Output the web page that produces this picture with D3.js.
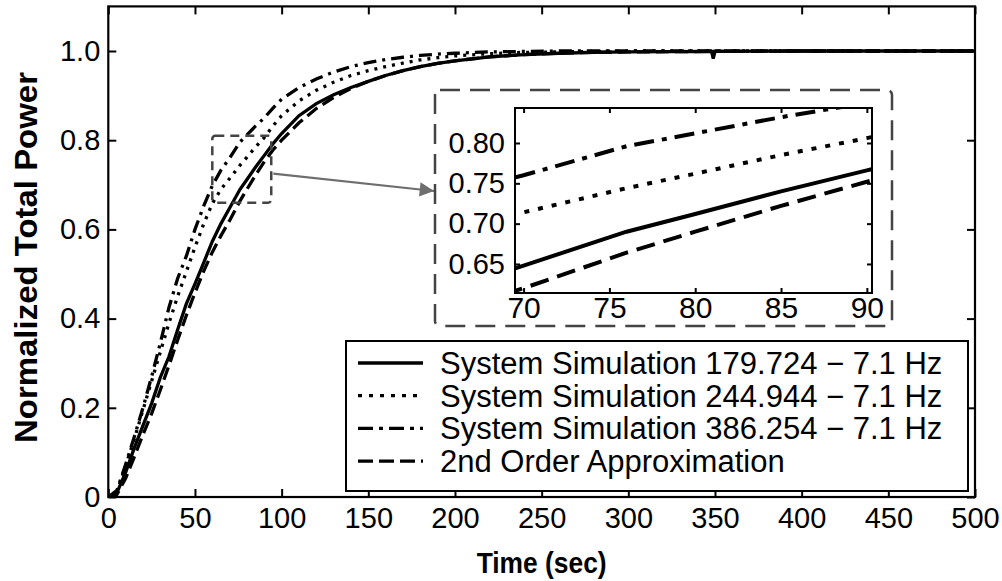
<!DOCTYPE html>
<html>
<head>
<meta charset="utf-8">
<script src="https://cdn.jsdelivr.net/npm/d3@7/dist/d3.min.js"></script>
<style>
  html, body { margin: 0; padding: 0; background: #fff; }
  svg text { font-family: "Liberation Sans", Arial, Helvetica, sans-serif; fill: #000; }
</style>
</head>
<body>
<div id="chart"></div>
<script>
(function(d3) {

  // time samples (sec) shared by all series
  var timeSec = [0, 5, 10, 15, 20, 25, 30, 35, 40, 45, 50, 55, 60, 65, 70, 76, 80, 85, 90, 95,
    100, 110, 120, 130, 140, 150, 160, 170, 180, 190, 200, 220, 240, 260, 280, 300,
    348, 349, 350, 400, 450, 500];

  var sim179 = [0, 0.010, 0.055, 0.110, 0.160, 0.210, 0.268, 0.315, 0.375, 0.433, 0.478, 0.525, 0.573, 0.613, 0.648, 0.690, 0.712, 0.740, 0.766, 0.792,
    0.815, 0.855, 0.882, 0.902, 0.918, 0.932, 0.945, 0.956, 0.965, 0.972, 0.978, 0.987, 0.992, 0.995, 0.997, 0.998,
    0.999, 0.983, 0.999, 1.000, 1.000, 1.000];

  var sim244 = [0, 0.012, 0.070, 0.130, 0.195, 0.260, 0.325, 0.390, 0.450, 0.505, 0.560, 0.612, 0.658, 0.690, 0.714, 0.744, 0.762, 0.785, 0.806, 0.832,
    0.855, 0.888, 0.912, 0.930, 0.945, 0.956, 0.965, 0.973, 0.980, 0.985, 0.989, 0.994, 0.997, 0.998, 0.999, 1.000,
    1.000, 1.000, 1.000, 1.000, 1.000, 1.000];

  var sim386 = [0, 0.015, 0.073, 0.135, 0.200, 0.270, 0.345, 0.425, 0.490, 0.540, 0.600, 0.652, 0.698, 0.733, 0.760, 0.796, 0.812, 0.832, 0.850, 0.872,
    0.892, 0.918, 0.937, 0.953, 0.965, 0.974, 0.981, 0.986, 0.990, 0.993, 0.995, 0.998, 0.999, 1.000, 1.000, 1.000,
    1.000, 1.000, 1.000, 1.000, 1.000, 1.000];

  var approx2nd = [0, 0.006, 0.042, 0.090, 0.140, 0.187, 0.240, 0.295, 0.352, 0.407, 0.458, 0.506, 0.549, 0.586, 0.620, 0.664, 0.690, 0.722, 0.752, 0.778,
    0.800, 0.839, 0.871, 0.896, 0.916, 0.932, 0.945, 0.956, 0.965, 0.972, 0.978, 0.987, 0.992, 0.995, 0.997, 0.998,
    0.999, 0.999, 0.999, 1.000, 1.000, 1.000];

  var seriesNames = [
    'System Simulation 179.724 \u2212 7.1 Hz',
    'System Simulation 244.944 \u2212 7.1 Hz',
    'System Simulation 386.254 \u2212 7.1 Hz',
    '2nd Order Approximation'
  ];
  var seriesValues = [sim179, sim244, sim386, approx2nd];

  var xTicks = [0, 50, 100, 150, 200, 250, 300, 350, 400, 450, 500];
  var yTicks = [0, 0.2, 0.4, 0.6, 0.8, 1.0];
  var insetXTicks = [70, 75, 80, 85, 90];
  var insetYTicks = [0.65, 0.70, 0.75, 0.80];

  // zoom window in data units
  var zoomBox = { t0: 60, t1: 94, v0: 0.66, v1: 0.81 };

  // line styles: main plot / inset / legend
  var dashMain   = [null, '3,6', '13,6,3,6', '13,6'];
  var dashInset  = [null, '5,9', '20,8,5,8', '19,9'];
  var dashLegend = [null, '4,7', '15,6,4,6', '15,6'];

  var W = 1002, H = 581;
  var plot = { left: 108.3, right: 975, top: 6.4, bottom: 497 };
  var insetFrame = { x: 435, y: 90, w: 457, h: 236 };
  var inset = { left: 515, right: 872, top: 108, bottom: 293 };
  var legendBox = { x: 346, y: 341, w: 622, h: 150 };

  var svg = d3.select('#chart').append('svg')
      .attr('width', W)
      .attr('height', H);

  var x = d3.scaleLinear().domain([0, 500]).range([plot.left, plot.right]);
  var y = d3.scaleLinear().domain([0, 1.1]).range([plot.bottom, plot.top]);

  var fmtY = function(d) { return d === 0 ? '0' : d3.format('.1f')(d); };

  var styleAxis = function(g, fontSize) {
    g.select('.domain').remove();
    g.selectAll('.tick line').attr('stroke', '#000').attr('stroke-width', 2);
    g.selectAll('.tick text').attr('font-size', fontSize).attr('fill', '#000');
    g.attr('font-family', null);
  };

  // main axes, ticks pointing inward on all four sides
  svg.append('g')
      .attr('transform', 'translate(0,' + plot.bottom + ')')
      .call(d3.axisBottom(x).tickValues(xTicks).tickSize(-8).tickPadding(10))
      .call(styleAxis, 29);
  svg.append('g')
      .attr('transform', 'translate(0,' + plot.top + ')')
      .call(d3.axisTop(x).tickValues(xTicks).tickSize(-8).tickFormat(''))
      .call(styleAxis, 29);
  svg.append('g')
      .attr('transform', 'translate(' + plot.left + ',0)')
      .call(d3.axisLeft(y).tickValues(yTicks).tickSize(-8).tickPadding(8).tickFormat(fmtY))
      .call(styleAxis, 29);
  svg.append('g')
      .attr('transform', 'translate(' + plot.right + ',0)')
      .call(d3.axisRight(y).tickValues(yTicks).tickSize(-8).tickFormat(''))
      .call(styleAxis, 29);

  svg.append('clipPath').attr('id', 'clipMain')
    .append('rect')
      .attr('x', plot.left).attr('y', plot.top)
      .attr('width', plot.right - plot.left).attr('height', plot.bottom - plot.top);

  var line = d3.line()
      .x(function(d) { return x(d[0]); })
      .y(function(d) { return y(d[1]); });

  var pairs = function(vals) {
    return timeSec.map(function(t, i) { return [t, vals[i]]; });
  };

  var curves = svg.append('g').attr('clip-path', 'url(#clipMain)');
  // dashed first so the solid sits on top
  [3, 2, 1, 0].forEach(function(i) {
    curves.append('path')
        .attr('d', line(pairs(seriesValues[i])))
        .attr('fill', 'none')
        .attr('stroke', '#000')
        .attr('stroke-width', 3.3)
        .attr('stroke-dasharray', dashMain[i]);
  });

  // frame
  svg.append('rect')
      .attr('x', plot.left).attr('y', plot.top)
      .attr('width', plot.right - plot.left).attr('height', plot.bottom - plot.top)
      .attr('fill', 'none').attr('stroke', '#000').attr('stroke-width', 2.2);

  // zoom window
  svg.append('rect')
      .attr('x', x(zoomBox.t0)).attr('y', y(zoomBox.v1))
      .attr('width', x(zoomBox.t1) - x(zoomBox.t0))
      .attr('height', y(zoomBox.v0) - y(zoomBox.v1))
      .attr('rx', 3)
      .attr('fill', 'none').attr('stroke', '#444').attr('stroke-width', 2.5)
      .attr('stroke-dasharray', '9,6');

  // arrow from the zoom window to the inset
  svg.append('defs').append('marker')
      .attr('id', 'arrowHead')
      .attr('viewBox', '0 0 10 10')
      .attr('refX', 10).attr('refY', 5)
      .attr('markerWidth', 8).attr('markerHeight', 6.5)
      .attr('markerUnits', 'strokeWidth')
      .attr('orient', 'auto')
    .append('path')
      .attr('d', 'M0,0 L10,5 L0,10 z')
      .attr('fill', '#6e6e6e');

  svg.append('line')
      .attr('x1', x(zoomBox.t1) + 2).attr('y1', y(0.725))
      .attr('x2', insetFrame.x - 1).attr('y2', 191)
      .attr('stroke', '#6e6e6e').attr('stroke-width', 2.2)
      .attr('marker-end', 'url(#arrowHead)');

  // inset
  svg.append('rect')
      .attr('x', insetFrame.x).attr('y', insetFrame.y)
      .attr('width', insetFrame.w).attr('height', insetFrame.h)
      .attr('rx', 5)
      .attr('fill', '#fff').attr('stroke', '#444').attr('stroke-width', 2.5)
      .attr('stroke-dasharray', '20,10');

  var ix = d3.scaleLinear().domain([69.5, 90.3]).range([inset.left, inset.right]);
  var iy = d3.scaleLinear().domain([0.614, 0.8434]).range([inset.bottom, inset.top]);

  svg.append('g')
      .attr('transform', 'translate(0,' + inset.bottom + ')')
      .call(d3.axisBottom(ix).tickValues(insetXTicks).tickSize(-5).tickPadding(4))
      .call(styleAxis, 30);
  svg.append('g')
      .attr('transform', 'translate(0,' + inset.top + ')')
      .call(d3.axisTop(ix).tickValues(insetXTicks).tickSize(-5).tickFormat(''))
      .call(styleAxis, 30);
  svg.append('g')
      .attr('transform', 'translate(' + inset.left + ',0)')
      .call(d3.axisLeft(iy).tickValues(insetYTicks).tickSize(-5).tickPadding(10).tickFormat(d3.format('.2f')))
      .call(styleAxis, 29);
  svg.append('g')
      .attr('transform', 'translate(' + inset.right + ',0)')
      .call(d3.axisRight(iy).tickValues(insetYTicks).tickSize(-5).tickFormat(''))
      .call(styleAxis, 29);

  svg.append('clipPath').attr('id', 'clipInset')
    .append('rect')
      .attr('x', inset.left).attr('y', inset.top)
      .attr('width', inset.right - inset.left).attr('height', inset.bottom - inset.top);

  var iline = d3.line()
      .x(function(d) { return ix(d[0]); })
      .y(function(d) { return iy(d[1]); });

  var icurves = svg.append('g').attr('clip-path', 'url(#clipInset)');
  [3, 2, 1, 0].forEach(function(i) {
    icurves.append('path')
        .attr('d', iline(pairs(seriesValues[i])))
        .attr('fill', 'none')
        .attr('stroke', '#000')
        .attr('stroke-width', 4)
        .attr('stroke-dasharray', dashInset[i]);
  });

  svg.append('rect')
      .attr('x', inset.left).attr('y', inset.top)
      .attr('width', inset.right - inset.left).attr('height', inset.bottom - inset.top)
      .attr('fill', 'none').attr('stroke', '#000').attr('stroke-width', 2);

  // legend
  var leg = svg.append('g');
  leg.append('rect')
      .attr('x', legendBox.x).attr('y', legendBox.y)
      .attr('width', legendBox.w).attr('height', legendBox.h)
      .attr('fill', '#fff').attr('stroke', '#000').attr('stroke-width', 2);

  var rowY = function(i) { return legendBox.y + 22 + i * 32.7; };

  seriesNames.forEach(function(name, i) {
    leg.append('line')
        .attr('x1', legendBox.x + 12).attr('x2', legendBox.x + 77)
        .attr('y1', rowY(i)).attr('y2', rowY(i))
        .attr('stroke', '#000').attr('stroke-width', 3.3)
        .attr('stroke-dasharray', dashLegend[i]);
    leg.append('text')
        .attr('x', legendBox.x + 94)
        .attr('y', rowY(i))
        .attr('dy', '0.35em')
        .attr('font-size', 31)
        .text(name);
  });

  // axis titles
  svg.append('text')
      .attr('x', (plot.left + plot.right) / 2)
      .attr('y', 573)
      .attr('text-anchor', 'middle')
      .attr('font-size', 30)
      .attr('font-weight', 'bold')
      .attr('textLength', 130)
      .attr('lengthAdjust', 'spacingAndGlyphs')
      .text('Time (sec)');

  svg.append('text')
      .attr('transform', 'translate(37,257.5) rotate(-90)')
      .attr('text-anchor', 'middle')
      .attr('font-size', 32)
      .attr('font-weight', 'bold')
      .attr('textLength', 371)
      .attr('lengthAdjust', 'spacingAndGlyphs')
      .text('Normalized Total Power');

}(d3));
</script>
</body>
</html>
